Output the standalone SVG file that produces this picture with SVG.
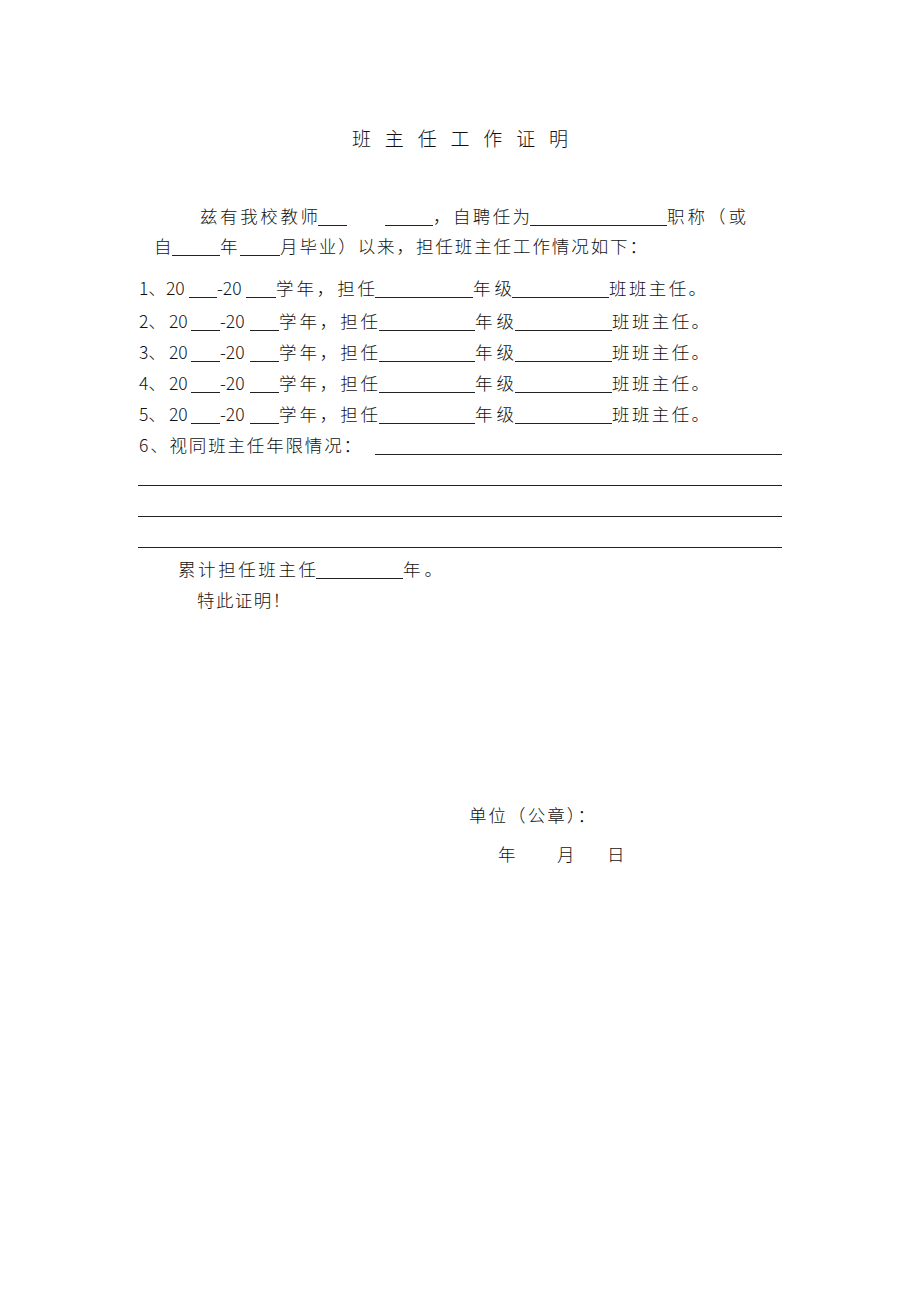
<svg xmlns="http://www.w3.org/2000/svg" width="920" height="1302" viewBox="0 0 920 1302">
<style>
text{font-family:"Noto Sans CJK SC","Noto Sans",sans-serif;font-size:17.5px;font-weight:300;fill:#111;}
.title{font-size:19px;}
.u{stroke:#222;stroke-width:1;fill:none;}
</style>
<rect x="0" y="0" width="920" height="1302" fill="#fff"/>
<g id="title">
<text class="title" x="352" y="146" textLength="216" lengthAdjust="spacing">班 主 任 工 作 证 明</text>
</g>
<g id="intro">
<text x="200" y="223" textLength="118" lengthAdjust="spacing">兹有我校教师</text>
<text x="433" y="223" textLength="97" lengthAdjust="spacing">，自聘任为</text>
<text x="667" y="223" textLength="79" lengthAdjust="spacing">职称（或</text>
<text x="154" y="253">自</text>
<text x="220" y="253">年</text>
<text x="280" y="253" textLength="367" lengthAdjust="spacing">月毕业）以来，担任班主任工作情况如下：</text>
</g>
<g id="row1">
<text x="139" y="295">1、</text>
<text x="166" y="295">20</text>
<text x="217" y="295">-20</text>
<text x="276" y="295" textLength="99" lengthAdjust="spacing">学年，担任</text>
<text x="473" y="295" textLength="39" lengthAdjust="spacing">年级</text>
<text x="609" y="295" textLength="97" lengthAdjust="spacing">班班主任。</text>
</g>
<g id="row2">
<text x="139" y="328">2、</text>
<text x="169" y="328">20</text>
<text x="220" y="328">-20</text>
<text x="279" y="328" textLength="99" lengthAdjust="spacing">学年，担任</text>
<text x="475" y="328" textLength="39" lengthAdjust="spacing">年级</text>
<text x="612" y="328" textLength="97" lengthAdjust="spacing">班班主任。</text>
</g>
<g id="row3">
<text x="139" y="359">3、</text>
<text x="169" y="359">20</text>
<text x="220" y="359">-20</text>
<text x="279" y="359" textLength="99" lengthAdjust="spacing">学年，担任</text>
<text x="475" y="359" textLength="39" lengthAdjust="spacing">年级</text>
<text x="612" y="359" textLength="97" lengthAdjust="spacing">班班主任。</text>
</g>
<g id="row4">
<text x="139" y="390">4、</text>
<text x="169" y="390">20</text>
<text x="220" y="390">-20</text>
<text x="279" y="390" textLength="99" lengthAdjust="spacing">学年，担任</text>
<text x="475" y="390" textLength="39" lengthAdjust="spacing">年级</text>
<text x="612" y="390" textLength="97" lengthAdjust="spacing">班班主任。</text>
</g>
<g id="row5">
<text x="139" y="421">5、</text>
<text x="169" y="421">20</text>
<text x="220" y="421">-20</text>
<text x="279" y="421" textLength="99" lengthAdjust="spacing">学年，担任</text>
<text x="475" y="421" textLength="39" lengthAdjust="spacing">年级</text>
<text x="612" y="421" textLength="97" lengthAdjust="spacing">班班主任。</text>
</g>
<g id="row6">
<text x="139" y="452" textLength="222" lengthAdjust="spacing">6、视同班主任年限情况：</text>
</g>
<g id="total">
<text x="178" y="576" textLength="138" lengthAdjust="spacing">累计担任班主任</text>
<text x="403" y="576" textLength="39" lengthAdjust="spacing">年。</text>
<text x="197" y="607" textLength="93" lengthAdjust="spacing">特此证明！</text>
</g>
<g id="sign">
<text x="469" y="822" textLength="126" lengthAdjust="spacing">单位（公章）：</text>
<text x="498" y="861">年</text>
<text x="557" y="861">月</text>
<text x="607" y="861">日</text>
</g>
<g id="lines" class="u">
<path class="u" d="M318 225.5H347M385 225.5H433M530 225.5H667"/>
<path class="u" d="M172 255.5H220M240 255.5H280"/>
<path class="u" d="M189 297.5H217M246 297.5H276M375 297.5H473M512 297.5H609"/>
<path class="u" d="M191 330.5H220M250 330.5H279M379 330.5H475M515 330.5H612"/>
<path class="u" d="M191 361.5H220M250 361.5H279M379 361.5H475M515 361.5H612"/>
<path class="u" d="M191 392.5H220M250 392.5H279M379 392.5H475M515 392.5H612"/>
<path class="u" d="M191 423.5H220M250 423.5H279M379 423.5H475M515 423.5H612"/>
<path class="u" d="M375 454.5H782M138 485.5H782M138 516.5H782M138 547.5H782"/>
<path class="u" d="M316 578.5H403"/>
</g>
</svg>
